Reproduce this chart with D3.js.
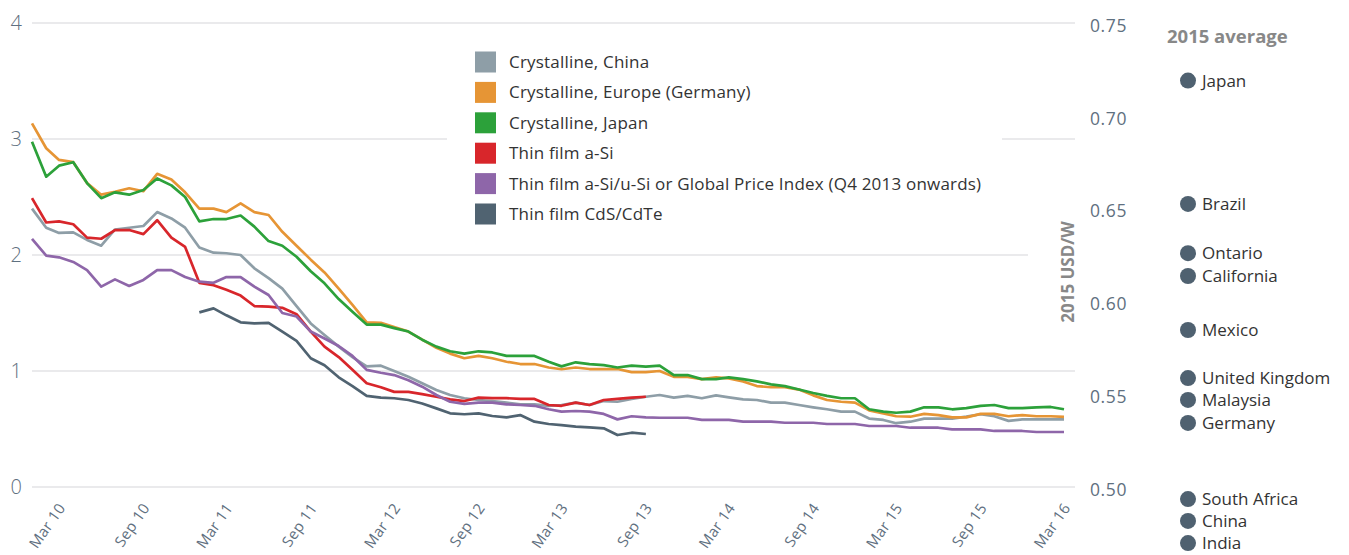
<!DOCTYPE html>
<html>
<head>
<meta charset="utf-8">
<script src="https://cdn.jsdelivr.net/npm/d3@7"></script>
<style>
  html, body { margin: 0; padding: 0; background: #fff; }
  svg { display: block; font-family: "Open Sans", Lato, sans-serif; }
</style>
</head>
<body>
<svg id="chart" width="1349" height="555"></svg>
<script>
// ---------- DATA ----------
const startMonth = "2010-01";           // first monthly observation
const seriesNames = [
  "Crystalline, China",
  "Crystalline, Europe (Germany)",
  "Crystalline, Japan",
  "Thin film a-Si",
  "Thin film a-Si/u-Si or Global Price Index (Q4 2013 onwards)",
  "Thin film CdS/CdTe"
];
const seriesColors = ["#8e9ea7", "#e69535", "#2ca13a", "#d8262b", "#8e66a9", "#506371"];

// monthly values, 2015 USD/W (index 0 = Jan 2010)
const crystallineChina = [2.40,2.235,2.19,2.195,2.13,2.08,2.22,2.235,2.25,2.37,2.315,2.235,2.065,2.02,2.015,2.0,1.885,1.80,1.71,1.56,
  1.41,1.31,1.21,1.12,1.04,1.046,1.0,0.95,0.894,0.836,0.793,0.765,0.75,0.741,0.727,0.713,0.713,0.70,0.707,0.727,
  0.707,0.741,0.735,0.759,0.778,0.793,0.77,0.785,0.765,0.79,0.773,0.756,0.75,0.727,0.727,0.707,0.687,0.67,0.65,0.65,
  0.59,0.578,0.55,0.563,0.59,0.59,0.59,0.606,0.627,0.61,0.57,0.583,0.583,0.583,0.583];
const crystallineEurope = [3.135,2.92,2.82,2.80,2.62,2.52,2.545,2.575,2.55,2.70,2.65,2.54,2.40,2.40,2.37,2.445,2.37,2.345,2.20,2.08,
  1.96,1.85,1.71,1.57,1.42,1.415,1.38,1.34,1.27,1.20,1.15,1.11,1.13,1.11,1.08,1.06,1.06,1.03,1.015,1.03,
  1.017,1.017,1.017,0.99,0.99,1.0,0.95,0.95,0.93,0.945,0.937,0.91,0.87,0.86,0.86,0.84,0.79,0.75,0.735,0.727,
  0.66,0.635,0.61,0.606,0.63,0.62,0.60,0.60,0.63,0.63,0.61,0.62,0.61,0.61,0.605];
const crystallineJapan = [2.977,2.675,2.77,2.80,2.62,2.49,2.54,2.52,2.56,2.66,2.60,2.50,2.29,2.31,2.31,2.34,2.245,2.12,2.08,1.985,
  1.86,1.756,1.62,1.51,1.40,1.40,1.37,1.34,1.27,1.21,1.17,1.15,1.17,1.16,1.13,1.13,1.13,1.08,1.04,1.075,
  1.06,1.05,1.03,1.046,1.037,1.046,0.965,0.965,0.93,0.93,0.945,0.93,0.91,0.885,0.87,0.84,0.81,0.785,0.765,0.765,
  0.67,0.65,0.64,0.65,0.687,0.687,0.67,0.68,0.70,0.707,0.68,0.68,0.687,0.69,0.67];
const thinFilmASi = [2.49,2.28,2.29,2.265,2.15,2.14,2.215,2.215,2.18,2.30,2.15,2.07,1.76,1.74,1.70,1.65,1.56,1.555,1.545,1.49,
  1.34,1.21,1.12,1.01,0.894,0.86,0.82,0.82,0.80,0.778,0.756,0.741,0.77,0.766,0.766,0.759,0.759,0.707,0.70,0.727,
  0.707,0.75,0.759,0.77,0.778];
const thinFilmASiUSi = [2.14,1.995,1.98,1.94,1.87,1.727,1.79,1.733,1.785,1.87,1.87,1.81,1.77,1.76,1.81,1.81,1.727,1.655,1.50,1.47,
  1.34,1.28,1.215,1.13,1.01,0.985,0.965,0.92,0.865,0.793,0.735,0.716,0.727,0.727,0.713,0.707,0.70,0.67,0.65,0.655,
  0.65,0.63,0.583,0.61,0.60,0.597,0.597,0.597,0.578,0.578,0.578,0.563,0.563,0.563,0.554,0.554,0.554,0.543,0.543,0.543,
  0.526,0.526,0.526,0.511,0.511,0.511,0.497,0.497,0.497,0.483,0.483,0.483,0.474,0.474,0.474];
const thinFilmCdTeStart = 12;           // series begins Jan 2011
const thinFilmCdTe = [1.505,1.54,1.48,1.42,1.41,1.415,1.34,1.26,
  1.11,1.05,0.946,0.87,0.785,0.77,0.765,0.75,0.72,0.678,0.635,0.627,0.635,0.612,0.60,0.62,0.563,0.543,0.534,0.52,
  0.514,0.506,0.448,0.468,0.457];

const leftTicks = [0, 1, 2, 3, 4];
const rightTicks = [0.50, 0.55, 0.60, 0.65, 0.70, 0.75];
const rightTickLabels = ["0.50", "0.55", "0.60", "0.65", "0.70", "0.75"];
const xTickLabels = ["Mar 10","Sep 10","Mar 11","Sep 11","Mar 12","Sep 12","Mar 13","Sep 13","Mar 14","Sep 14","Mar 15","Sep 15","Mar 16"];

const countries = ["Japan","Brazil","Ontario","California","Mexico","United Kingdom","Malaysia","Germany","South Africa","China","India"];
const countryAverages2015 = [0.719,0.6525,0.626,0.6137,0.5846,0.5587,0.5469,0.5345,0.4935,0.4817,0.4698];

// ---------- BUILD ----------
const parseMonth = d3.timeParse("%Y-%m");
const t0 = parseMonth(startMonth);
const monthAt = i => d3.timeMonth.offset(t0, i);

const allSeries = [
  { values: crystallineChina, start: 0 },
  { values: crystallineEurope, start: 0 },
  { values: crystallineJapan, start: 0 },
  { values: thinFilmASi, start: 0 },
  { values: thinFilmASiUSi, start: 0 },
  { values: thinFilmCdTe, start: thinFilmCdTeStart }
].map((s, k) => ({
  name: seriesNames[k],
  color: seriesColors[k],
  points: s.values.map((v, i) => ({ date: monthAt(s.start + i), value: v }))
}));

const svg = d3.select("#chart");
const x = d3.scaleTime()
  .domain([t0, monthAt(crystallineChina.length - 1)])
  .range([32, 1064]);
const y = d3.scaleLinear().domain([0, 4]).range([487, 23]);
const yR = d3.scaleLinear().domain([0.5, 0.75]).range([487, 23]);

const axisColor = "#5f7080";

// gridlines
svg.append("g").selectAll("line").data(leftTicks).join("line")
  .attr("x1", 32).attr("x2", 1075)
  .attr("y1", d => y(d)).attr("y2", d => y(d))
  .attr("stroke", "#e3e3e6").attr("stroke-width", 1.5);

// left tick labels
svg.append("g").selectAll("text").data(leftTicks).join("text")
  .attr("x", 22).attr("y", d => y(d)).attr("dy", "0.36em")
  .attr("text-anchor", "end")
  .attr("font-size", 20).attr("font-weight", 300).attr("fill", axisColor)
  .text(d => d);

// x tick labels
const xTicks = x.ticks(d3.timeMonth.every(1)).filter(d => d.getMonth() === 2 || d.getMonth() === 8);
svg.append("g").selectAll("text").data(xTicks).join("text")
  .attr("transform", d => `translate(${x(d) + 7},${508}) rotate(-55)`)
  .attr("text-anchor", "end")
  .attr("font-size", 15).attr("letter-spacing", 0.3).attr("fill", axisColor)
  .text((d, i) => xTickLabels[i]);

// legend (with white backdrop)
svg.append("rect").attr("x", 447).attr("y", 36).attr("width", 555).attr("height", 206).attr("fill", "#fff");
const leg = svg.append("g").selectAll("g").data(allSeries).join("g")
  .attr("transform", (d, i) => `translate(475,${62 + i * 30.4})`);
leg.append("rect").attr("x", 0).attr("y", -10.5).attr("width", 21).attr("height", 21).attr("fill", d => d.color);
leg.append("text").attr("x", 34).attr("y", 0).attr("dy", "0.35em")
  .attr("font-size", 17).attr("letter-spacing", 0.2).attr("fill", "#333").text(d => d.name);

// lines
const line = d3.line().x(d => x(d.date)).y(d => y(d.value));
svg.append("g").selectAll("path").data(allSeries).join("path")
  .attr("d", d => line(d.points))
  .attr("fill", "none").attr("stroke", d => d.color)
  .attr("stroke-width", 2.7).attr("stroke-linejoin", "round");

// right axis title with white backdrop
svg.append("rect").attr("x", 1028).attr("y", 222).attr("width", 47).attr("height", 100).attr("fill", "#fff");
svg.append("text")
  .attr("transform", "translate(1074,272) rotate(-90)")
  .attr("text-anchor", "middle")
  .attr("font-size", 17).attr("font-weight", 700).attr("fill", "#888")
  .text("2015 USD/W");

// right tick labels
svg.append("g").selectAll("text").data(rightTicks).join("text")
  .attr("x", 1090).attr("y", d => yR(d)).attr("dy", "0.5em")
  .attr("font-size", 17.5).attr("letter-spacing", 0.6).attr("fill", axisColor)
  .text((d, i) => rightTickLabels[i]);

// 2015 average panel
svg.append("text").attr("x", 1167).attr("y", 43)
  .attr("font-size", 18.5).attr("font-weight", 700).attr("fill", "#888")
  .text("2015 average");
const dots = svg.append("g").selectAll("g").data(countries).join("g")
  .attr("transform", (d, i) => `translate(1188,${yR(countryAverages2015[i])})`);
dots.append("circle").attr("r", 8).attr("fill", "#4f6170");
dots.append("text").attr("x", 14).attr("dy", "0.36em")
  .attr("font-size", 17).attr("fill", "#333").text(d => d);
</script>
</body>
</html>
